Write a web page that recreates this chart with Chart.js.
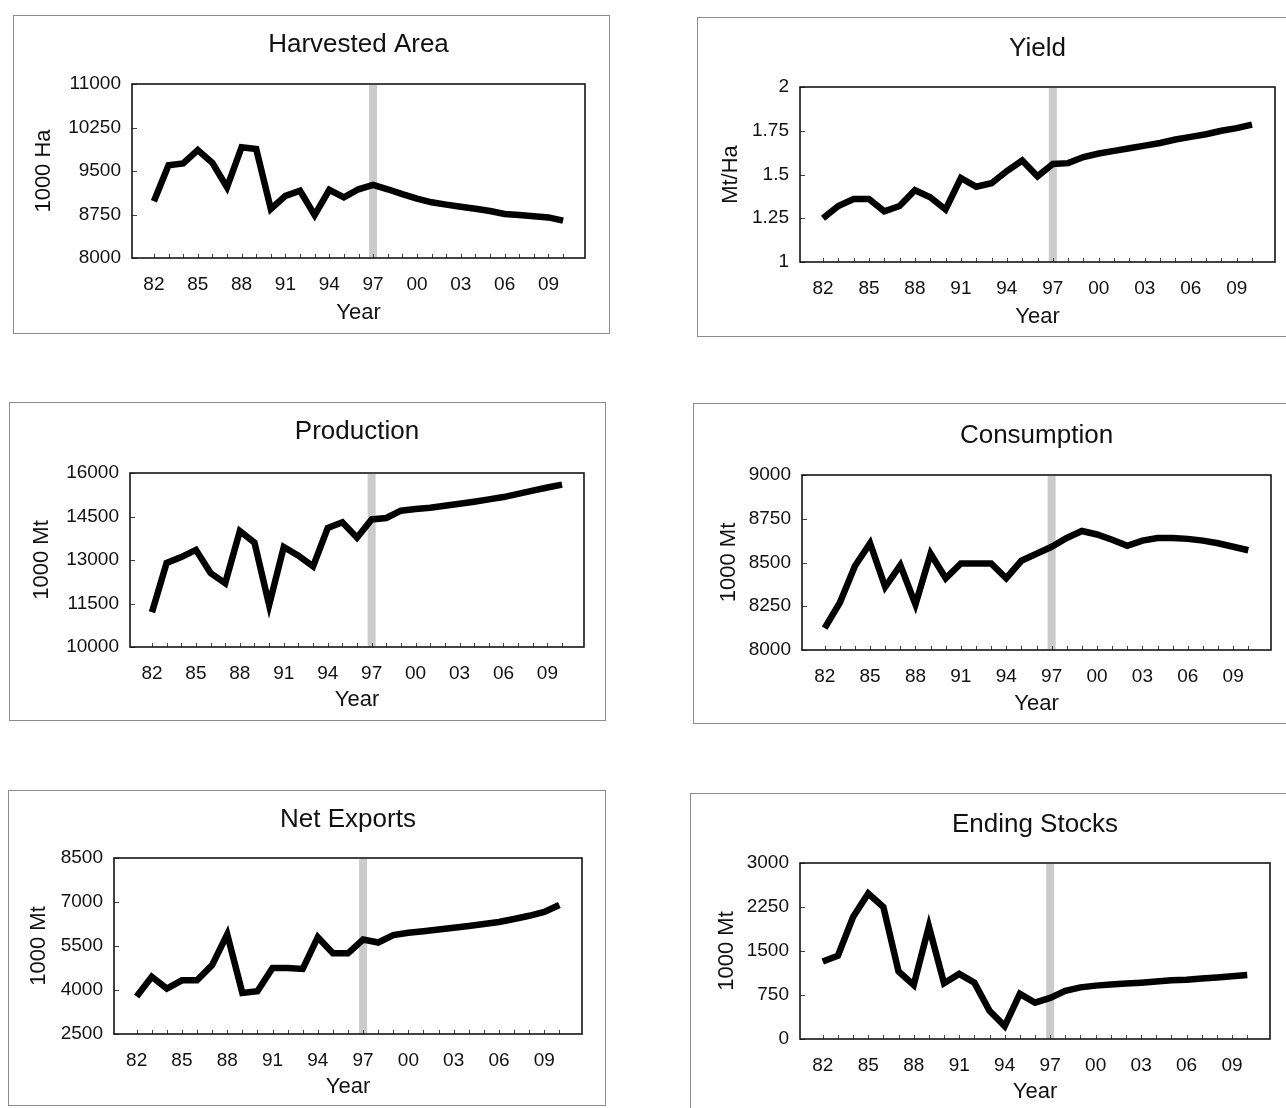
<!DOCTYPE html>
<html>
<head>
<meta charset="utf-8">
<script src="https://cdn.jsdelivr.net/npm/chart.js@4/dist/chart.umd.min.js"></script>
<style>
  html, body { margin: 0; padding: 0; background: #fff; width: 1286px; height: 1108px; overflow: hidden; }
  .frame { position: absolute; border: 1px solid #8c8c8c; box-sizing: border-box; }
  canvas { position: absolute; }
</style>
</head>
<body>
<script>
// Marketing years on the horizontal axis
const years = [1982, 1983, 1984, 1985, 1986, 1987, 1988, 1989, 1990, 1991,
               1992, 1993, 1994, 1995, 1996, 1997, 1998, 1999, 2000, 2001,
               2002, 2003, 2004, 2005, 2006, 2007, 2008, 2009, 2010];
const labelYears = [1982, 1985, 1988, 1991, 1994, 1997, 2000, 2003, 2006, 2009];
const baseYear = 1997; // last historical year, start of projections

// Series (one value per year)
const harvestedArea = [8980, 9600, 9630, 9860, 9640, 9220, 9910, 9880, 8845, 9070,
                       9160, 8740, 9175, 9045, 9185, 9260, 9185, 9100, 9025, 8960,
                       8920, 8885, 8850, 8810, 8760, 8740, 8720, 8700, 8645];
const yieldPerHa = [1.25, 1.32, 1.36, 1.36, 1.29, 1.32, 1.41, 1.37, 1.30, 1.48,
                    1.43, 1.45, 1.52, 1.58, 1.49, 1.56, 1.565, 1.60, 1.62, 1.635,
                    1.65, 1.665, 1.68, 1.70, 1.715, 1.73, 1.75, 1.765, 1.785];
const production = [11200, 12900, 13100, 13350, 12550, 12200, 14000, 13600, 11450, 13450,
                    13150, 12780, 14100, 14300, 13770, 14400, 14450, 14700, 14760, 14800,
                    14870, 14940, 15010, 15090, 15170, 15280, 15390, 15500, 15600];
const consumption = [8125, 8270, 8480, 8610, 8360, 8485, 8260, 8550, 8410, 8495,
                     8495, 8495, 8410, 8510, 8550, 8590, 8640, 8680, 8660, 8630,
                     8595, 8625, 8640, 8640, 8635, 8625, 8610, 8590, 8570];
const netExports = [3780, 4450, 4050, 4330, 4330, 4850, 5900, 3900, 3960, 4750,
                    4750, 4720, 5800, 5250, 5250, 5720, 5620, 5870, 5950, 6000,
                    6060, 6120, 6180, 6250, 6320, 6420, 6530, 6660, 6900];
const endingStocks = [1320, 1420, 2080, 2480, 2250, 1150, 920, 1920, 950, 1110,
                      960, 480, 220, 770, 620, 700, 820, 880, 910, 930,
                      945, 960, 980, 1000, 1010, 1030, 1050, 1070, 1090];

// Value-axis tick labels
const areaTicks = [8000, 8750, 9500, 10250, 11000];
const yieldTicks = [1, 1.25, 1.5, 1.75, 2];
const productionTicks = [10000, 11500, 13000, 14500, 16000];
const consumptionTicks = [8000, 8250, 8500, 8750, 9000];
const exportTicks = [2500, 4000, 5500, 7000, 8500];
const stockTicks = [0, 750, 1500, 2250, 3000];

const FONT = "'Liberation Sans', Arial, Helvetica, sans-serif";
const INK = '#111';

// Page placement of each panel: outer frame, plot rectangle and text anchors
const panels = [
  { title: 'Harvested Area', unit: '1000 Ha', values: harvestedArea, ticks: areaTicks,
    box: [13, 15, 610, 334], plot: [132, 84, 585, 258], titleY: 43, unitX: 42, yearY: 311 },
  { title: 'Yield', unit: 'Mt/Ha', values: yieldPerHa, ticks: yieldTicks,
    box: [697, 17, 1290, 337], plot: [800, 87, 1275, 262], titleY: 47, unitX: 729, yearY: 315 },
  { title: 'Production', unit: '1000 Mt', values: production, ticks: productionTicks,
    box: [9, 402, 606, 721], plot: [130, 473, 584, 647], titleY: 430, unitX: 40, yearY: 698 },
  { title: 'Consumption', unit: '1000 Mt', values: consumption, ticks: consumptionTicks,
    box: [693, 403, 1290, 724], plot: [802, 475, 1271, 650], titleY: 434, unitX: 727, yearY: 702 },
  { title: 'Net Exports', unit: '1000 Mt', values: netExports, ticks: exportTicks,
    box: [8, 790, 606, 1106], plot: [114, 858, 582, 1034], titleY: 818, unitX: 37, yearY: 1085 },
  { title: 'Ending Stocks', unit: '1000 Mt', values: endingStocks, ticks: stockTicks,
    box: [690, 793, 1290, 1112], plot: [800, 863, 1270, 1039], titleY: 823, unitX: 725, yearY: 1090 }
];

// Shaded projection marker, inward tick marks and plot frame
const decorations = {
  id: 'decorations',
  beforeDatasetsDraw(chart) {
    const { ctx, chartArea: a, scales: { x, y } } = chart;
    ctx.save();
    const bx = x.getPixelForValue(baseYear);
    ctx.fillStyle = '#cbcbcb';
    ctx.fillRect(bx - 4, a.top + 1, 8, a.bottom - a.top - 1);

    ctx.strokeStyle = '#444';
    ctx.lineWidth = 1;
    ctx.beginPath();
    years.forEach(v => {
      const px = Math.round(x.getPixelForValue(v)) + 0.5;
      ctx.moveTo(px, a.bottom);
      ctx.lineTo(px, a.bottom - 4);
    });
    y.ticks.forEach(t => {
      const py = Math.round(y.getPixelForValue(t.value)) + 0.5;
      ctx.moveTo(a.left, py);
      ctx.lineTo(a.left + 5, py);
    });
    ctx.stroke();

    ctx.strokeStyle = '#151515';
    ctx.lineWidth = 1.6;
    ctx.strokeRect(a.left, a.top, a.right - a.left, a.bottom - a.top);
    ctx.restore();
  }
};

panels.forEach(p => {
  const [bl, bt, br, bb] = p.box;
  const [pl, pt, pr, pb] = p.plot;
  const W = br - bl, H = bb - bt;

  const frame = document.createElement('div');
  frame.className = 'frame';
  Object.assign(frame.style, { left: bl + 'px', top: bt + 'px', width: W + 'px', height: H + 'px' });
  document.body.appendChild(frame);

  const canvas = document.createElement('canvas');
  canvas.width = W; canvas.height = H;
  Object.assign(canvas.style, { left: bl + 'px', top: bt + 'px', width: W + 'px', height: H + 'px' });
  document.body.appendChild(canvas);

  const titleSize = 26, titleLH = titleSize * 1.2;
  const titleTop = p.titleY + 2 - bt - titleLH / 2;
  const titleBottom = (pt - bt) - titleTop - titleLH;
  const axisSize = 22, axisLH = axisSize * 1.2;
  const tickSize = 19, tickLH = tickSize * 1.2;
  const noGrid = { display: false, drawTicks: false, tickLength: 0 };

  new Chart(canvas, {
    type: 'line',
    data: {
      datasets: [{
        data: years.map((yr, i) => ({ x: yr, y: p.values[i] })),
        borderColor: '#000',
        borderWidth: 6.5,
        pointRadius: 0,
        tension: 0,
        fill: false,
        borderJoinStyle: 'miter',
        borderCapStyle: 'butt'
      }]
    },
    options: {
      responsive: false,
      animation: false,
      devicePixelRatio: 1,
      layout: { padding: { left: 0, top: 0, right: br - pr, bottom: 0 } },
      plugins: {
        legend: { display: false },
        tooltip: { enabled: false },
        title: {
          display: true, text: p.title, fullSize: false, color: INK,
          font: { family: FONT, size: titleSize, weight: 'normal', lineHeight: 1.2 },
          padding: { top: titleTop, bottom: titleBottom }
        }
      },
      scales: {
        x: {
          type: 'linear', min: 1980.5, max: 2011.5,
          grid: noGrid, border: { display: false },
          afterBuildTicks: s => { s.ticks = labelYears.map(v => ({ value: v })); },
          afterFit: s => { s.height = bb - pb; },
          ticks: {
            autoSkip: false, maxRotation: 0, padding: 27 - tickLH / 2, color: INK,
            font: { family: FONT, size: tickSize, lineHeight: 1.2 },
            callback: v => String(v % 100).padStart(2, '0')
          },
          title: {
            display: true, text: 'Year', color: INK,
            font: { family: FONT, size: axisSize, lineHeight: 1.2 },
            padding: { top: 0, bottom: bb - p.yearY - 2 - axisLH / 2 }
          }
        },
        y: {
          min: p.ticks[0], max: p.ticks[p.ticks.length - 1],
          grid: noGrid, border: { display: false },
          afterBuildTicks: s => { s.ticks = p.ticks.map(v => ({ value: v })); },
          afterFit: s => { s.width = pl - bl; },
          ticks: {
            padding: 11, color: INK,
            font: { family: FONT, size: tickSize, lineHeight: 1.2 },
            callback: v => String(v)
          },
          title: {
            display: true, text: p.unit, color: INK,
            font: { family: FONT, size: axisSize, lineHeight: 1.2 },
            padding: { top: p.unitX + 2 - bl - axisLH / 2, bottom: 0 }
          }
        }
      }
    },
    plugins: [decorations]
  });
});
</script>
</body>
</html>
